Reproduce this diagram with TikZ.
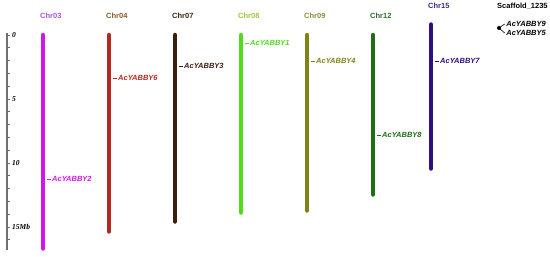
\documentclass[tikz,border=0pt]{standalone}
\usepackage{fontspec}
\setmainfont{Liberation Sans}
\newfontfamily\rulerfont{Liberation Serif}
\usepackage{tikz}
\usetikzlibrary{positioning}
\usepackage{xcolor}
% chromosome and label colours
\definecolor{k03}{HTML}{D214F0}\definecolor{l03}{HTML}{A855D8}
\definecolor{k04}{HTML}{B4281E}\definecolor{l04}{HTML}{8B5A2B}
\definecolor{k07}{HTML}{3C1E0F}\definecolor{l07}{HTML}{3C2814}
\definecolor{k08}{HTML}{50DC1E}\definecolor{l08}{HTML}{9CC83C}
\definecolor{k09}{HTML}{828214}\definecolor{l09}{HTML}{8C8C3C}
\definecolor{k12}{HTML}{1E6E14}\definecolor{l12}{HTML}{2E6E2E}
\definecolor{k15}{HTML}{2D0F82}\definecolor{l15}{HTML}{3C2896}
\definecolor{ruler}{HTML}{707070}

\begin{document}
\begin{tikzpicture}[x=1pt,y=-1pt,
  chrom/.style={line width=4.5pt,line cap=round},
  chrlabel/.style={anchor=west,inner sep=0pt,font=\bfseries\fontsize{7.5}{9}\selectfont},
  genelabel/.style={anchor=west,inner sep=0pt,font=\bfseries\itshape\fontsize{7.5}{9}\selectfont},
  ticklabel/.style={anchor=west,inner sep=0pt,font=\rulerfont\bfseries\itshape\fontsize{7.5}{9}\selectfont}]
  \useasboundingbox (0,0) rectangle (550,257);
  % Ruler (12.8 px per Mb)
  \coordinate (ax-top) at (7,33);
  \coordinate (ax-bot) at (7,250);
  \draw[ruler, line width=1.2pt] (ax-top) -- (ax-bot);
  \foreach \mb in {0,...,16}
    \draw[ruler, line width=0.8pt] (7,{35+12.8*\mb}) -- (10,{35+12.8*\mb});
  \foreach \mb/\txt in {0/0,5/5,10/10,15/15Mb}
    \node[ticklabel] (tick\mb) at (12,{35+12.8*\mb}) {\txt};
  % Chromosomes
  \foreach \name/\cx/\top/\bot/\ly/\n in {Chr03/43/35/248.5/16/03, Chr04/109/35/231.5/16/04,
      Chr07/175/35/221.5/16/07, Chr08/241/35/212.5/16/08, Chr09/307/35/210.5/16/09,
      Chr12/373/35/194.5/16/12, Chr15/431/24.5/168.5/6/15}{
    \coordinate (\name-top) at (\cx,\top);
    \coordinate (\name-bot) at (\cx,\bot);
    \draw[chrom, k\n] (\name-top) -- (\name-bot);
    \node[chrlabel, text=l\n] (\name-lab) at (\cx-3,\ly) {\name};
  }
  % Genes
  \foreach \gene/\cx/\gy/\n in {YABBY2/43/179/03, YABBY6/109/78/04, YABBY3/175/66/07,
      YABBY1/241/43/08, YABBY4/307/61/09, YABBY8/373/135/12, YABBY7/431/61/15}{
    \coordinate (\gene-pt) at (\cx+4,\gy);
    \node[genelabel, text=k\n] (\gene) at (\cx+9,\gy) {Ac\gene};
    \draw[k\n, line width=0.7pt] (\gene-pt) -- ([xshift=-1.5pt]\gene.west);
  }
  % Scaffold
  \node[chrlabel] (scaf-lab) at (497,6) {Scaffold\_1235};
  \coordinate (scaf-pt) at (499,28);
  \fill (scaf-pt) circle (2pt);
  \node[genelabel, anchor=east] (YABBY9) at (546,24) {AcYABBY9};
  \node[genelabel, anchor=east] (YABBY5) at (546,33) {AcYABBY5};
  \draw[line width=0.6pt] (scaf-pt) -- ([xshift=-1.5pt]YABBY9.west);
  \draw[line width=0.6pt] (scaf-pt) -- ([xshift=-1.5pt]YABBY5.west);
\end{tikzpicture}
\end{document}
